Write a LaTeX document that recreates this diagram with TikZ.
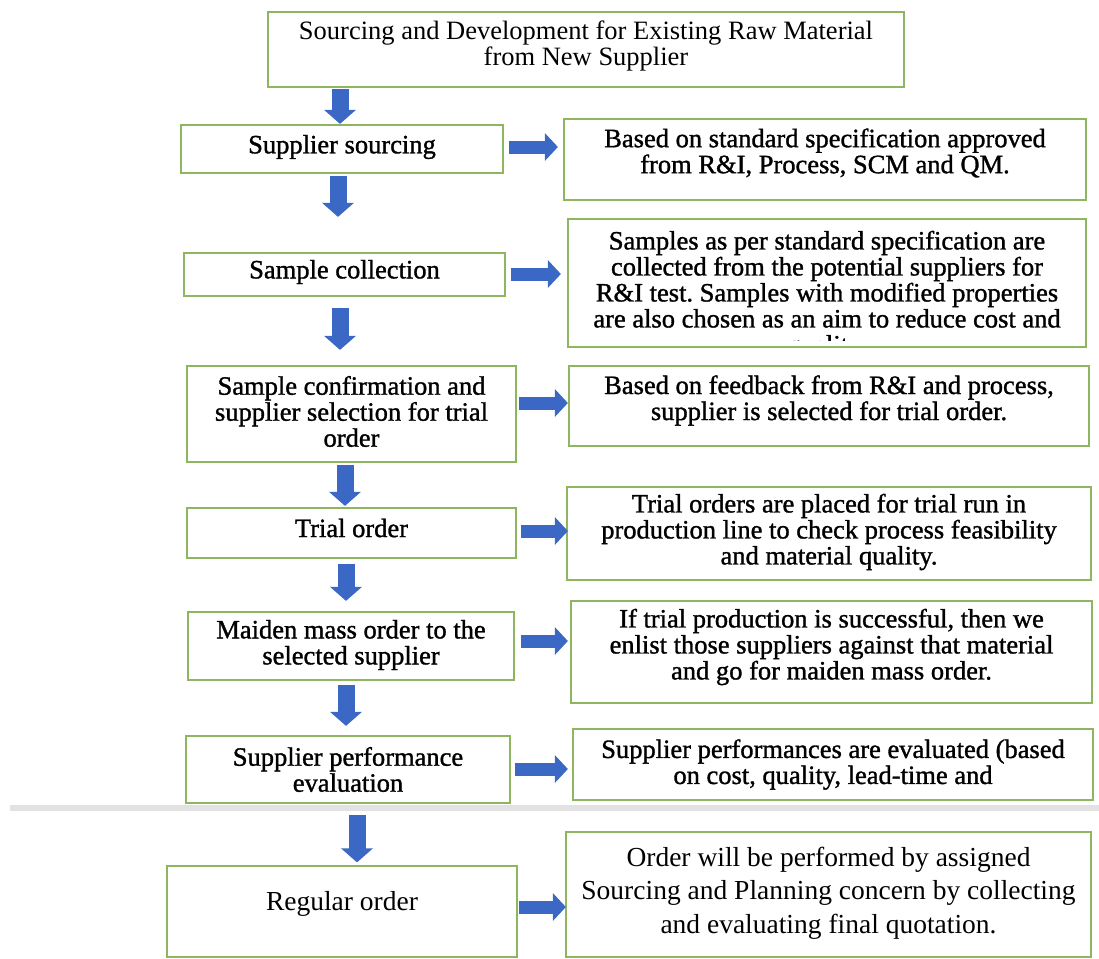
\documentclass[tikz,border=0pt]{standalone}
\usepackage{fontspec}
\setmainfont{Liberation Serif}
\newfontfamily\heavyserif[FakeBold=1.2]{Liberation Serif}
\usetikzlibrary{arrows.meta}

\definecolor{boxgreen}{HTML}{8DB65E}
\definecolor{flowblue}{HTML}{3B68C4}
\definecolor{bandgray}{HTML}{E2E2E2}

\tikzset{
  box/.style={draw=boxgreen, line width=1.8pt, rectangle, inner sep=0pt, fill=white},
  txt/.style={align=center, inner sep=0pt, font=\fontsize{26.5}{26}\selectfont},
  midtxt/.style={align=center, inner sep=0pt, font=\heavyserif\fontsize{26.5}{26}\selectfont},
  bigtxt/.style={align=center, inner sep=0pt, font=\fontsize{27.5}{33.5}\selectfont},
  vflow/.style={flowblue, line width=17pt, -{Triangle[width=31pt,length=14pt]}},
  hflow/.style={flowblue, line width=13pt, -{Triangle[width=27pt,length=13pt]}},
}

\begin{document}
\frenchspacing
\begin{tikzpicture}[x=1pt,y=-1pt]
\useasboundingbox (0,0) rectangle (1099,958);

% main process boxes (left column)
\node[box, minimum width=636pt, minimum height=75pt] (top)  at (586,49.5)  {};
\node[box, minimum width=322pt, minimum height=48pt] (ss)   at (342,149)   {};
\node[box, minimum width=321pt, minimum height=43pt] (sc)   at (344.5,274.5) {};
\node[box, minimum width=329pt, minimum height=96pt] (conf) at (351.5,414) {};
\node[box, minimum width=329pt, minimum height=50pt] (to)   at (351.5,533) {};
\node[box, minimum width=326pt, minimum height=68pt] (mm)   at (351,646)   {};
\node[box, minimum width=324pt, minimum height=67pt] (sp)   at (348,769.5) {};
\node[box, minimum width=350pt, minimum height=91pt] (ro)   at (342,911.5) {};

% description boxes (right column)
\node[box, minimum width=522pt, minimum height=81pt]  (d1) at (825,159.5) {};
\node[box, minimum width=518pt, minimum height=128pt] (d2) at (827,283)   {};
\node[box, minimum width=520pt, minimum height=80pt]  (d3) at (829,406)   {};
\node[box, minimum width=524pt, minimum height=93pt]  (d4) at (829,533.5) {};
\node[box, minimum width=521pt, minimum height=102pt] (d5) at (831.5,652) {};
\node[box, minimum width=520pt, minimum height=71pt]  (d6) at (833,764.5) {};
\node[box, minimum width=525pt, minimum height=125pt] (d7) at (828.5,894.5) {};

% page break band
\fill[bandgray] (10,805) rectangle (1099,811);

% texts of the process boxes
\node[txt] at (top.center) [yshift=4pt] {Sourcing and Development for Existing Raw Material\\from New Supplier};
\node[midtxt] at (ss.center)   [yshift=2pt] {Supplier sourcing};
\node[midtxt] at (sc.center)   [yshift=2.5pt] {Sample collection};
\node[midtxt] at (conf.center) [yshift=2.5pt] {Sample confirmation and\\supplier selection for trial\\order};
\node[midtxt] at (to.center)   [yshift=5pt] {Trial order};
\node[midtxt] at (mm.center)   [yshift=1pt] {Maiden mass order to the\\selected supplier};
\node[midtxt] at (sp.center)   {Supplier performance\\evaluation};
\node[bigtxt] at (ro.center) [yshift=8pt] {Regular order};

% texts of the description boxes
\node[midtxt] at (d1.center) [yshift=6.5pt] {Based on standard specification approved\\from R\&I, Process, SCM and QM.};
\begin{scope}
  \clip ([shift={(1,-7)}]d2.south west) rectangle ([shift={(-1,1)}]d2.north east);
  \node[midtxt] at (d2.center) [yshift=-12pt] {Samples as per standard specification are\\collected from the potential suppliers for\\R\&I test. Samples with modified properties\\are also chosen as an aim to reduce cost and\\quality.};
\end{scope}
\node[midtxt] at (d3.center) [yshift=5.5pt] {Based on feedback from R\&I and process,\\supplier is selected for trial order.};
\node[midtxt] at (d4.center) [yshift=1.5pt] {Trial orders are placed for trial run in\\production line to check process feasibility\\and material quality.};
\node[midtxt] at (d5.center) [yshift=5pt] {If trial production is successful, then we\\enlist those suppliers against that material\\and go for maiden mass order.};
\node[midtxt] at (d6.center) {Supplier performances are evaluated (based\\on cost, quality, lead-time and};
\node[bigtxt] at (d7.center) [yshift=1.5pt] {Order will be performed by assigned\\Sourcing and Planning concern by collecting\\and evaluating final quotation.};

% downward flow arrows
\draw[vflow] (top.south) ++(-246,1)  -- ++(0,35);
\draw[vflow] (ss.south)  ++(-4,2)    -- ++(0,41);
\draw[vflow] (sc.south)  ++(-4.5,11) -- ++(0,42);
\draw[vflow] (conf.south) ++(-6.5,2) -- ++(0,41);
\draw[vflow] (to.south)  ++(-5.5,5)  -- ++(0,37);
\draw[vflow] (mm.south)  ++(-5,4)    -- ++(0,41);
\draw[vflow] (sp.south)  ++(9,11.5)  -- ++(0,47);

% sideways flow arrows
\draw[hflow] (ss.east)   ++(5,-2)  -- ++(49,0);
\draw[hflow] (sc.east)   ++(5,-0.5) -- ++(50,0);
\draw[hflow] (conf.east) ++(2,-11) -- ++(49,0);
\draw[hflow] (to.east)   ++(4,-2)  -- ++(47,0);
\draw[hflow] (mm.east)   ++(6,-5)  -- ++(47,0);
\draw[hflow] (sp.east)   ++(4,-0.5) -- ++(53,0);
\draw[hflow] (ro.east)   ++(1,-4.5) -- ++(47,0);
\end{tikzpicture}
\end{document}
